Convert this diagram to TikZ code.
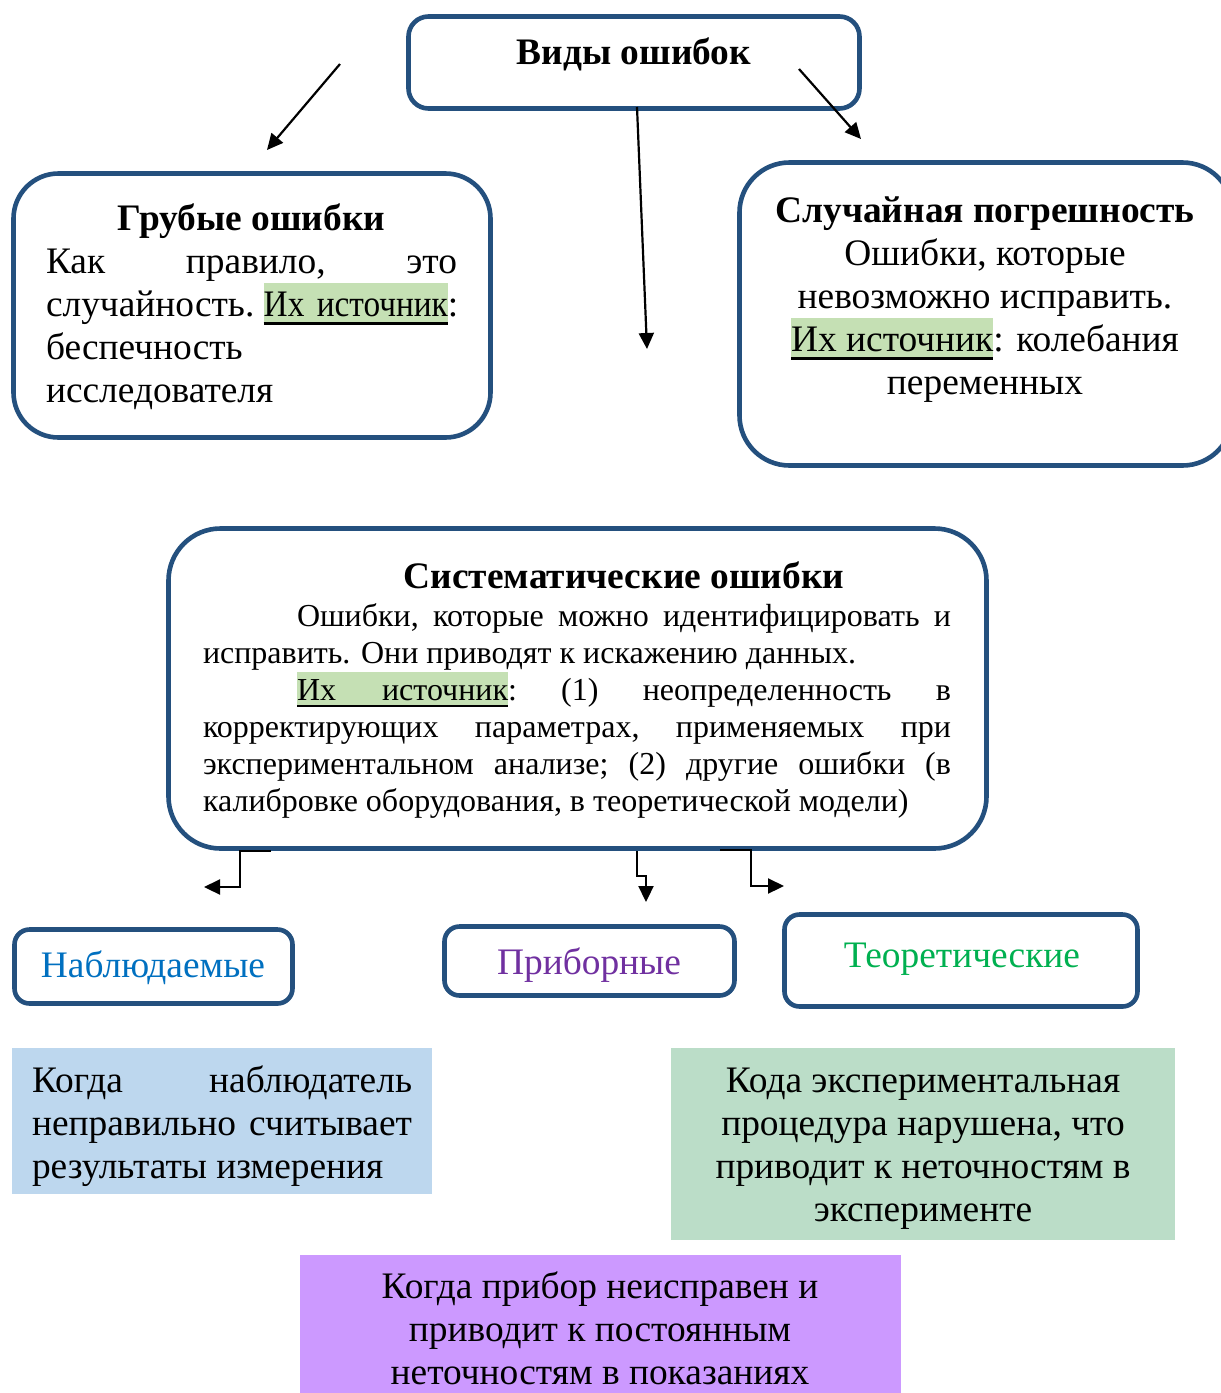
\documentclass[tikz,border=0pt]{standalone}
\usepackage{fontspec}
\usepackage{graphicx}
\setmainfont{Liberation Serif}
\usetikzlibrary{arrows.meta}
\definecolor{bord}{HTML}{24507E}
\definecolor{hlg}{HTML}{C5E0B4}
\definecolor{fblue}{HTML}{BDD7EE}
\definecolor{fgreen}{HTML}{BBDDC8}
\definecolor{fpurple}{HTML}{CC99FF}
\definecolor{tblue}{HTML}{0070C0}
\definecolor{tpurple}{HTML}{7030A0}
\definecolor{tgreen}{HTML}{00B050}
\newcommand\fsbig{\fontsize{37.4pt}{43pt}\selectfont}
\newcommand\fssmall{\fontsize{32pt}{37pt}\selectfont}
\newcommand\hlsrc[1]{\setbox0\hbox{#1}\leavevmode\rlap{\color{hlg}\rule[-0.23em]{\wd0}{1.12em}}\rlap{\rule[-0.23em]{\wd0}{0.07em}}\box0}
\newcommand\jl[2]{\hbox to #1pt{\frenchspacing\spaceskip=.25em plus 1fil\relax #2}}
\newcommand\cl[2]{\hbox to #1pt{\hss #2\hss}}
\newcommand\stack[2]{\vtop{\baselineskip=#1pt\lineskip=0pt\lineskiplimit=-\maxdimen #2}}
\tikzset{
  rbox/.style={draw=bord, line width=4.6pt, rounded corners=#1, anchor=north west, inner sep=0pt, outer sep=0pt},
  fbox/.style={fill=#1, draw=none, anchor=north west, inner sep=0pt, outer sep=0pt},
  txt/.style={inner sep=0pt, outer sep=0pt, font=\fsbig},
  arr/.style={line width=2.2pt, -{Triangle[length=16pt,width=15pt]}},
}
\begin{document}
\begin{tikzpicture}[x=1pt,y=-1pt]
\useasboundingbox (0,0) rectangle (1221,1393);
\clip (0,0) rectangle (1221,1393);
\fill[white] (0,0) rectangle (1221,1393);

% boxes
\node[rbox=20pt, minimum width=451pt, minimum height=92pt] (vid) at (408.5,16.5) {};
\node[rbox=45pt, minimum width=477pt, minimum height=264pt] (grub) at (13.5,173.5) {};
\node[rbox=50pt, minimum width=493pt, minimum height=303pt] (sluch) at (739.5,162.5) {};
\node[rbox=52pt, minimum width=818pt, minimum height=320pt] (sist) at (168.5,528.5) {};
\node[rbox=15pt, minimum width=278pt, minimum height=74pt] (nabl) at (14.5,929.5) {};
\node[rbox=15pt, minimum width=290pt, minimum height=69pt] (prib) at (444.5,926.5) {};
\node[rbox=15pt, minimum width=353pt, minimum height=92pt] (teor) at (784.5,914.5) {};
\node[fbox=fblue, minimum width=420pt, minimum height=146pt] (fb) at (12,1048) {};
\node[fbox=fgreen, minimum width=504pt, minimum height=192pt] (fg) at (671,1048) {};
\node[fbox=fpurple, minimum width=601pt, minimum height=150pt] (fp) at (300,1255) {};

% texts
\node[txt, anchor=base, font=\fsbig\bfseries] (vidt) at (634,64) {Виды ошибок};
\node[txt, anchor=base west] (grubt) at (46,230) {\stack{43}{%
  \cl{411}{\bfseries Грубые ошибки}%
  \jl{411}{Как правило, это}%
  \jl{411}{случайность. \hlsrc{\scalebox{0.89}[1]{Их\hskip14pt источник}}:}%
  \hbox{беспечность}%
  \hbox{исследователя}}};
\node[txt, anchor=base] (slucht) at (985,222) {\stack{43}{%
  \cl{480}{\bfseries Случайная погрешность}%
  \cl{480}{Ошибки, которые}%
  \cl{480}{невозможно исправить.}%
  \cl{480}{\hlsrc{Их источник}: колебания}%
  \cl{480}{переменных}}};
\node[txt, anchor=base, font=\fsbig\bfseries] (sistt) at (624,588) {Систематические ошибки};
\node[txt, anchor=base west, font=\fssmall] (sistb) at (203,626) {\stack{37}{%
  \jl{748}{\hskip94pt Ошибки, которые можно идентифицировать и}%
  \hbox{исправить. Они приводят к искажению данных.}%
  \jl{748}{\hskip94pt \hlsrc{Их\hskip46pt источник}: (1) неопределенность в}%
  \jl{748}{корректирующих параметрах, применяемых при}%
  \jl{748}{экспериментальном анализе; (2) другие ошибки (в}%
  \hbox{калибровке оборудования, в теоретической модели)}}};
\node[txt, anchor=base, text=tblue] (nablt) at (153,977) {Наблюдаемые};
\node[txt, anchor=base, text=tpurple] (pribt) at (589,974) {Приборные};
\node[txt, anchor=base, text=tgreen] (teort) at (962,967) {Теоретические};
\node[txt, anchor=base west] (fbt) at (32,1092) {\stack{43}{%
  \jl{380}{Когда наблюдатель}%
  \jl{380}{неправильно считывает}%
  \hbox{результаты измерения}}};
\node[txt, anchor=base] (fgt) at (923,1092) {\stack{43}{%
  \cl{480}{Кода экспериментальная}%
  \cl{480}{процедура нарушена, что}%
  \cl{480}{приводит к неточностям в}%
  \cl{480}{эксперименте}}};
\node[txt, anchor=base] (fpt) at (600,1298) {\stack{43}{%
  \cl{580}{Когда прибор неисправен и}%
  \cl{580}{приводит к постоянным}%
  \cl{580}{неточностям в показаниях}}};

% arrows
\coordinate (a1s) at (340,64);  \coordinate (a1e) at (267,150);
\coordinate (a2s) at (799,69);  \coordinate (a2e) at (861,139);
\coordinate (a3s) at (637,107); \coordinate (a3e) at (647,349);
\draw[arr] (a1s) -- (a1e);
\draw[arr] (a2s) -- (a2e);
\draw[arr] (a3s) -- (a3e);
\coordinate (e1s) at (271,851); \coordinate (e1a) at (240,851); \coordinate (e1b) at (240,887); \coordinate (e1e) at (204,887);
\coordinate (e2s) at (637,851); \coordinate (e2a) at (637,876); \coordinate (e2b) at (646,876); \coordinate (e2e) at (646,902);
\coordinate (e3s) at (720,850); \coordinate (e3a) at (751,850); \coordinate (e3b) at (751,886); \coordinate (e3e) at (784,886);
\draw[arr] (e1s) -- (e1a) -- (e1b) -- (e1e);
\draw[arr] (e2s) -- (e2a) -- (e2b) -- (e2e);
\draw[arr] (e3s) -- (e3a) -- (e3b) -- (e3e);
\end{tikzpicture}
\end{document}
